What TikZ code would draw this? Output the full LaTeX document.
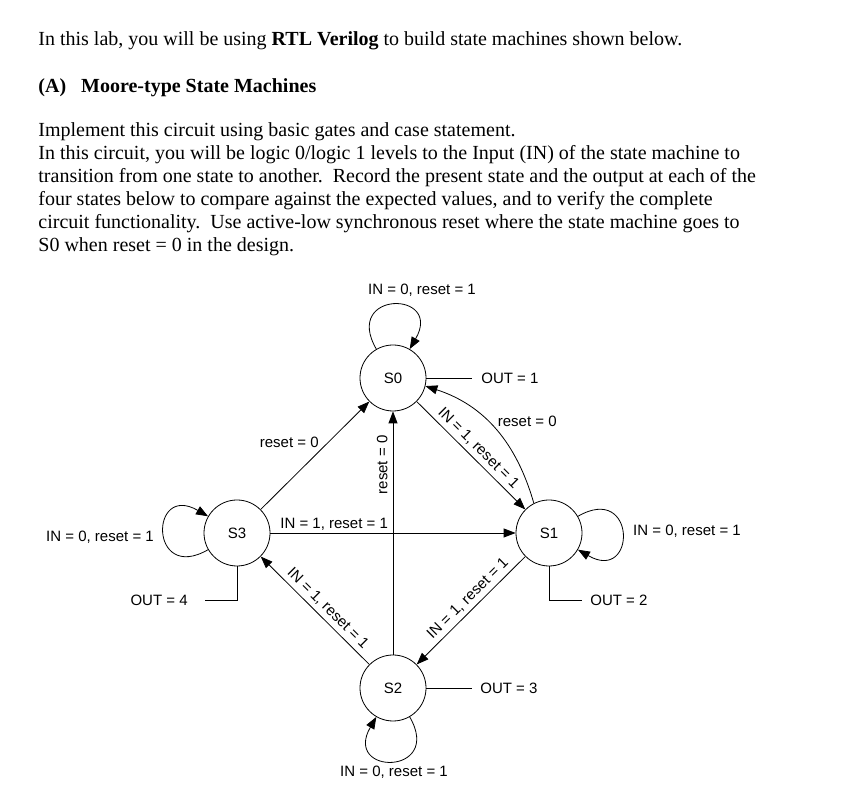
\documentclass[tikz,border=0pt]{standalone}
\usepackage{fontspec}
\setmainfont{Liberation Serif}
\setsansfont{Liberation Sans}
\usetikzlibrary{arrows.meta,positioning}

\begin{document}
\begin{tikzpicture}[x=1pt,y=1pt,>={Triangle[length=12pt,width=9pt]},line width=0.8pt]
  \tikzset{fsm/.style={draw,circle,minimum size=66pt,inner sep=0pt,
    font=\sffamily\fontsize{15}{18}\selectfont},
    lbl/.style={font=\sffamily\fontsize{15}{18}\selectfont,inner sep=2pt},
    body/.style={font=\fontsize{20}{23}\selectfont,inner sep=0pt,anchor=base west,align=left}}
  \useasboundingbox (0,0) rectangle (856,791);
  % text above the diagram
  \node[body] (intro) at (38,745) {In this lab, you will be using \textbf{RTL Verilog} to build state machines shown below.};
  \node[body,font=\bfseries\fontsize{20}{23}\selectfont] (part) at (38,698) {(A)\hspace{15pt}Moore-type State Machines};
  \node[body] (task) at (38,539) {Implement this circuit using basic gates and case statement.\\
    In this circuit, you will be logic 0/logic 1 levels to the Input (IN) of the state machine to\\
    transition from one state to another.\ \ Record the present state and the output at each of the\\
    four states below to compare against the expected values, and to verify the complete\\
    circuit functionality.\ \ Use active-low synchronous reset where the state machine goes to\\
    S0 when reset = 0 in the design.};
  % states
  \node[fsm] (S0) at (393,413) {S0};
  \node[fsm] (S1) at (549,258) {S1};
  \node[fsm] (S2) at (393,103) {S2};
  \node[fsm] (S3) at (237,258) {S3};
  % transitions
  \draw[->] (S3) -- node[lbl,pos=0.62,left=7pt]{reset = 0} (S0);
  \draw[->] (S2) -- node[lbl,pos=0.78,sloped,above,yshift=3pt]{reset = 0} (S0);
  \draw[->] (S3) -- node[lbl,pos=0.26,above]{IN = 1, reset = 1} (S1);
  \draw[->] (S0) -- node[lbl,pos=0.5,sloped,above,yshift=2pt]{IN = 1, reset = 1} (S1);
  \draw[->] (S1) -- node[lbl,pos=0.46,sloped,above,yshift=2pt]{IN = 1, reset = 1} (S2);
  \draw[->] (S2) -- node[lbl,pos=0.45,sloped,above,yshift=2pt]{IN = 1, reset = 1} (S3);
  \draw[->] (S1.117) to[out=106,in=-18] node[lbl,pos=0.5,above right]{reset = 0} (S0.-14);
  % self loops
  \draw[->] (S0.120) .. controls +(120:68) and +(60:68) .. (S0.60);
  \draw[->] (S1.30) .. controls +(30:68) and +(-30:68) .. (S1.-30);
  \draw[->] (S2.-60) .. controls +(-60:68) and +(-120:68) .. (S2.-120);
  \draw[->] (S3.210) .. controls +(210:68) and +(150:68) .. (S3.150);
  \node[lbl] (in0) at (422,501) {IN = 0, reset = 1};
  \node[lbl] (in1) at (687,260) {IN = 0, reset = 1};
  \node[lbl] (in2) at (394,19) {IN = 0, reset = 1};
  \node[lbl] (in3) at (100,254) {IN = 0, reset = 1};
  % outputs
  \coordinate (o1) at (472,413);
  \coordinate (o2) at (582,191);
  \coordinate (o3) at (472,103);
  \coordinate (o4) at (205,191);
  \draw (S0) -- (o1);
  \draw (S1) |- (o2);
  \draw (S2) -- (o3);
  \draw (S3) |- (o4);
  \node[lbl,right=7pt of o1] (out1) {OUT = 1};
  \node[lbl,right=6pt of o2] (out2) {OUT = 2};
  \node[lbl,right=6pt of o3] (out3) {OUT = 3};
  \node[lbl,left=15pt of o4] (out4) {OUT = 4};
\end{tikzpicture}
\end{document}
